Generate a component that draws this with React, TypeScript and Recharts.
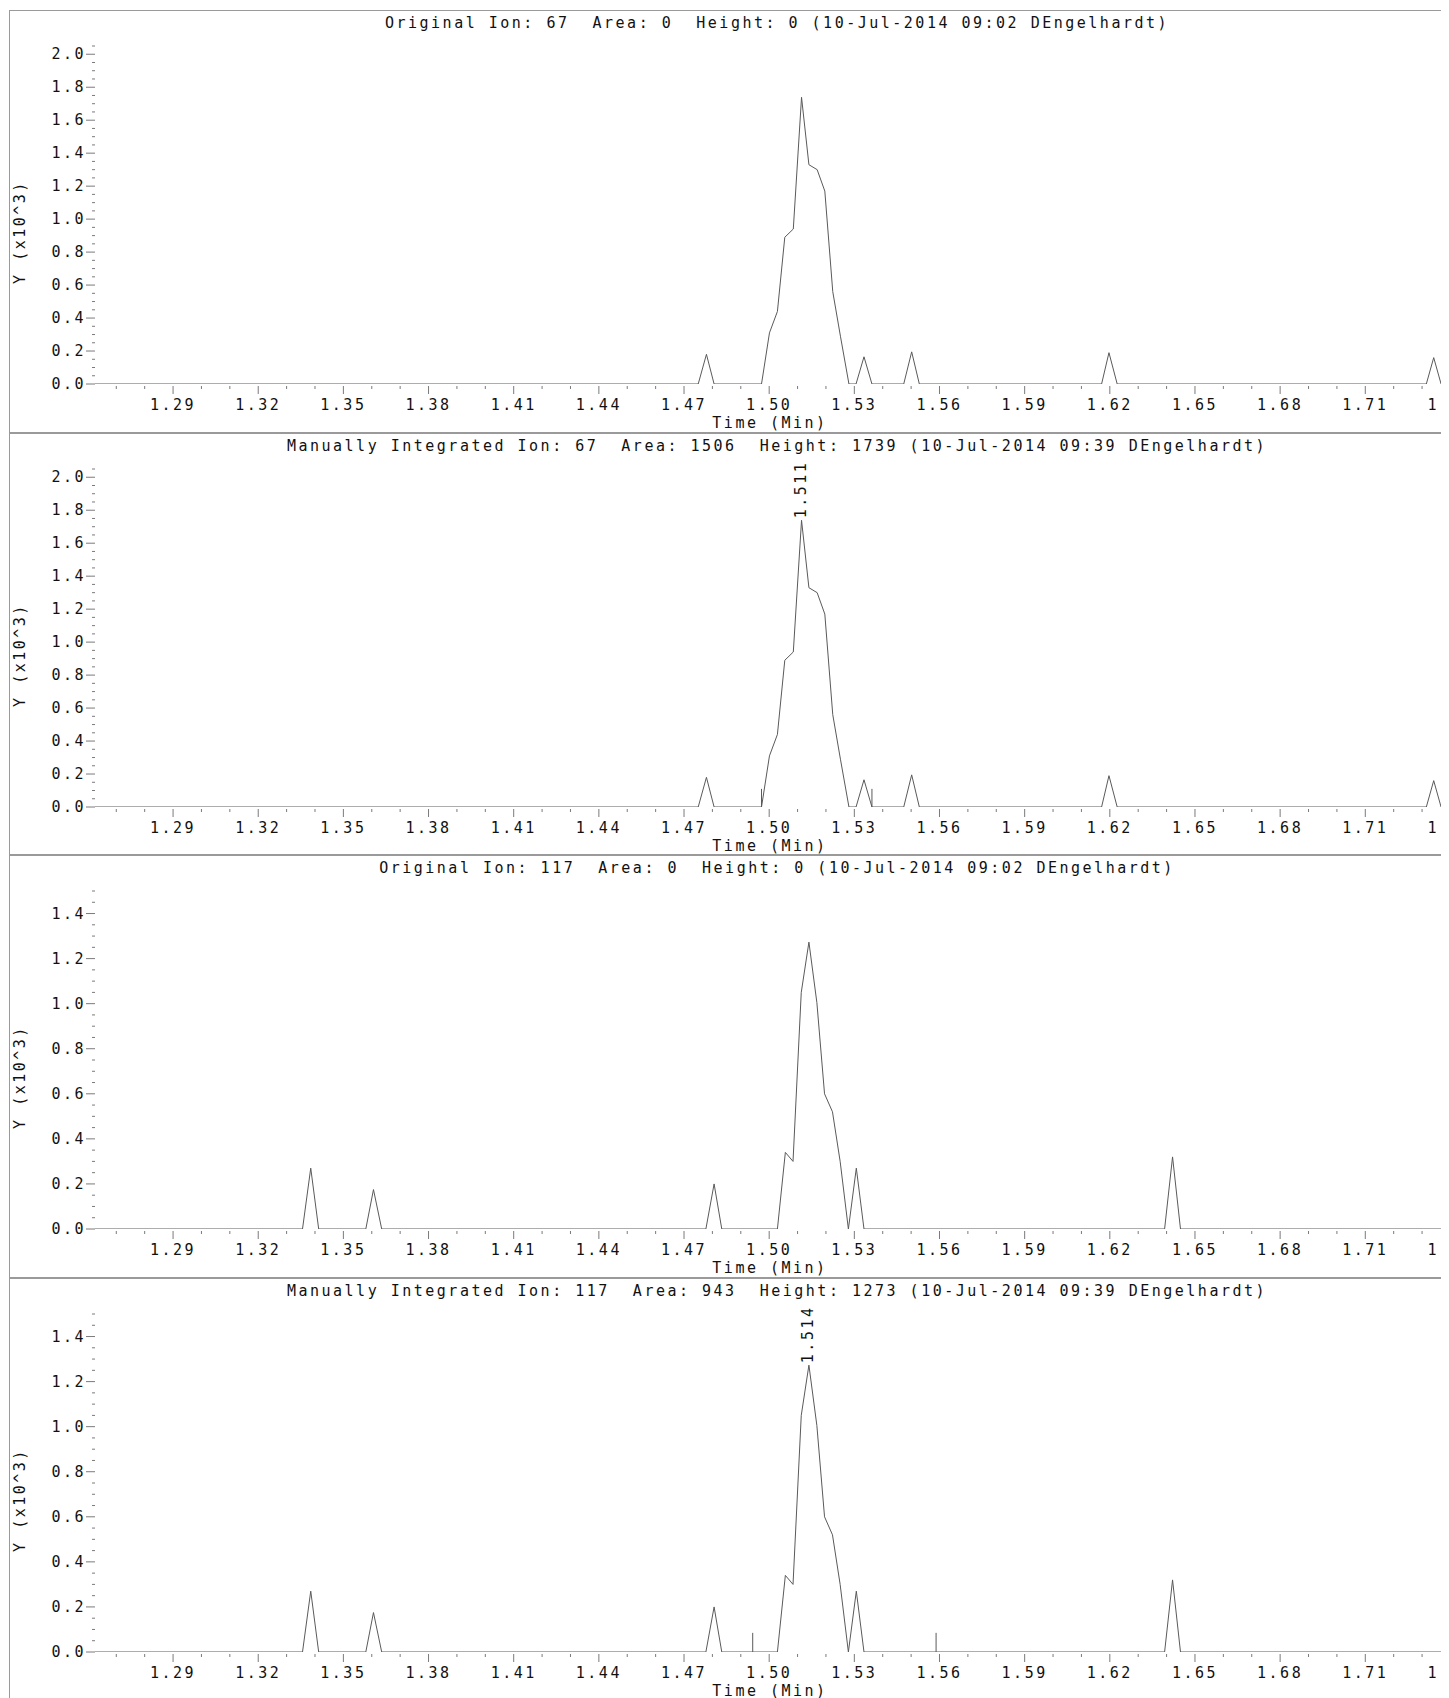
import React from 'react';
import { LineChart, Line, XAxis, YAxis, ReferenceDot, ReferenceLine } from 'recharts';

// Ion 67 trace: retention time (min) and abundance (x10^3)
const ion67Times = [1.2625, 1.475, 1.4779, 1.4806, 1.4973, 1.5001, 1.5029, 1.5055, 1.5085, 1.5114, 1.514, 1.5169, 1.5196, 1.5224, 1.5251, 1.5281, 1.5306, 1.5334, 1.5362, 1.5474, 1.5502, 1.5529, 1.6171, 1.6197, 1.6226, 1.7315, 1.7341, 1.7367, 1.78];
const ion67Values = [0, 0, 0.18, 0, 0, 0.31, 0.44, 0.89, 0.94, 1.739, 1.33, 1.3, 1.17, 0.56, 0.29, 0, 0, 0.165, 0, 0, 0.195, 0, 0, 0.19, 0, 0, 0.16, 0, 0];

// Ion 117 trace
const ion117Times = [1.2625, 1.3356, 1.3385, 1.3413, 1.3579, 1.3606, 1.3635, 1.4777, 1.4806, 1.4833, 1.5029, 1.5057, 1.5084, 1.5113, 1.514, 1.5168, 1.5195, 1.5223, 1.525, 1.5279, 1.5307, 1.5334, 1.6393, 1.6421, 1.6449, 1.78];
const ion117Values = [0, 0, 0.27, 0, 0, 0.175, 0, 0, 0.2, 0, 0, 0.34, 0.3, 1.05, 1.273, 1.005, 0.6, 0.52, 0.3, 0, 0.27, 0, 0, 0.32, 0, 0];

// manual integration start/end markers
const manual67Markers = [1.4973, 1.5362];
const manual67MarkerHeight = 0.11;
const manual117Markers = [1.4942, 1.5588];
const manual117MarkerHeight = 0.085;

const titles = [
  'Original Ion: 67  Area: 0  Height: 0 (10-Jul-2014 09:02 DEngelhardt)',
  'Manually Integrated Ion: 67  Area: 1506  Height: 1739 (10-Jul-2014 09:39 DEngelhardt)',
  'Original Ion: 117  Area: 0  Height: 0 (10-Jul-2014 09:02 DEngelhardt)',
  'Manually Integrated Ion: 117  Area: 943  Height: 1273 (10-Jul-2014 09:39 DEngelhardt)',
];

const xMajorTicks = [1.29, 1.32, 1.35, 1.38, 1.41, 1.44, 1.47, 1.5, 1.53, 1.56, 1.59, 1.62, 1.65, 1.68, 1.71, 1.74, 1.77];
const xAllTicks = Array.from({ length: 52 }, (_, i) => (127 + i) / 100);

const yMajor67 = [0, 0.2, 0.4, 0.6, 0.8, 1.0, 1.2, 1.4, 1.6, 1.8, 2.0];
const yMajor117 = [0, 0.2, 0.4, 0.6, 0.8, 1.0, 1.2, 1.4];
const yAll67 = Array.from({ length: 42 }, (_, i) => (i * 5) / 100);
const yAll117 = Array.from({ length: 31 }, (_, i) => (i * 5) / 100);

const ion67Data = ion67Times.map((t, i) => ({ t, y: ion67Values[i] }));
const ion117Data = ion117Times.map((t, i) => ({ t, y: ion117Values[i] }));

const TRACE = '#5a5a5a';
const TICK = '#7a7a7a';
const TEXT = '#111';
const fontStyle: React.CSSProperties = {
  fontFamily: '"DejaVu Sans Mono", monospace',
  fontSize: 15,
  letterSpacing: '2.5px',
};

const isMajor = (v: number, majors: number[]) => majors.some((m) => Math.abs(m - v) < 1e-6);

function XTick(props: any) {
  const { x, y, payload } = props;
  const major = isMajor(payload.value, xMajorTicks);
  return (
    <g>
      <line x1={x} y1={y + 2} x2={x} y2={y + (major ? 10 : 5)} stroke={TICK} />
      {major && (
        <text x={x} y={y + 21} textAnchor="middle" dominantBaseline="central" fill={TEXT} style={fontStyle}>
          {payload.value.toFixed(2)}
        </text>
      )}
    </g>
  );
}

function YTick(props: any) {
  const { x, y, payload, majors } = props;
  const major = isMajor(payload.value, majors);
  return (
    <g>
      <line x1={x - (major ? 9 : 3)} y1={y} x2={x} y2={y} stroke={TICK} />
      {major && (
        <text x={x - 9} y={y} textAnchor="end" dominantBaseline="central" fill={TEXT} style={fontStyle}>
          {payload.value.toFixed(1)}
        </text>
      )}
    </g>
  );
}

function PeakText(props: any) {
  const { viewBox, peakText } = props;
  const cx = viewBox.x + viewBox.width / 2 - 1;
  const cy = viewBox.y + viewBox.height / 2 - 2;
  return (
    <text x={cx} y={cy} transform={`rotate(-90 ${cx} ${cy})`} textAnchor="start" dominantBaseline="central" fill={TEXT} style={fontStyle}>
      {peakText}
    </text>
  );
}

const panels = [
  { data: ion67Data, yMax: 2.05, yMajor: yMajor67, yAll: yAll67, peak: null, markers: [], markerH: 0 },
  { data: ion67Data, yMax: 2.05, yMajor: yMajor67, yAll: yAll67, peak: { t: 1.5114, y: 1.739, label: '1.511' }, markers: manual67Markers, markerH: manual67MarkerHeight },
  { data: ion117Data, yMax: 1.5, yMajor: yMajor117, yAll: yAll117, peak: null, markers: [], markerH: 0 },
  { data: ion117Data, yMax: 1.5, yMajor: yMajor117, yAll: yAll117, peak: { t: 1.514, y: 1.273, label: '1.514' }, markers: manual117Markers, markerH: manual117MarkerHeight },
];

const panelTops = [2, 425, 847, 1270];

export default function App() {
  return (
    <div style={{ position: 'relative', width: 1441, height: 1690, overflow: 'hidden', background: '#fff' }}>
      {panels.map((p, k) => (
        <div
          key={k}
          style={{
            position: 'absolute',
            left: 1,
            top: panelTops[k],
            width: 1600,
            height: k < 3 ? panelTops[k + 1] - panelTops[k] : 423,
            border: '1px solid #9a9a9a',
            boxSizing: 'border-box',
          }}
        >
          <LineChart width={1564} height={420} data={p.data} margin={{ top: 35, right: 10, bottom: 7, left: 25 }}>
            <XAxis
              dataKey="t"
              type="number"
              domain={[1.2625, 1.78]}
              ticks={xAllTicks}
              interval={0}
              axisLine={false}
              tickLine={false}
              tickSize={0}
              tickMargin={0}
              height={40}
              tick={<XTick />}
              allowDataOverflow
            />
            <YAxis
              type="number"
              domain={[0, p.yMax]}
              ticks={p.yAll}
              interval={0}
              axisLine={false}
              tickLine={false}
              tickSize={0}
              tickMargin={0}
              width={60}
              tick={<YTick majors={p.yMajor} />}
              allowDataOverflow
            />
            <Line type="linear" dataKey="y" stroke={TRACE} strokeWidth={1} dot={false} activeDot={false} isAnimationActive={false} />
            {p.markers.map((m) => (
              <ReferenceLine key={m} segment={[{ x: m, y: 0 }, { x: m, y: p.markerH }]} stroke={TRACE} ifOverflow="visible" />
            ))}
            {p.peak && (
              <ReferenceDot x={p.peak.t} y={p.peak.y} r={1} fill="none" stroke="none" label={<PeakText peakText={p.peak.label} />} />
            )}
          </LineChart>
          <div style={{ ...fontStyle, color: TEXT, position: 'absolute', left: 767, top: 12, transform: 'translate(-50%, -50%)', whiteSpace: 'pre' }}>
            {titles[k]}
          </div>
          <div style={{ ...fontStyle, color: TEXT, position: 'absolute', left: 760, top: 412, transform: 'translate(-50%, -50%)', whiteSpace: 'pre' }}>
            Time (Min)
          </div>
          <div style={{ ...fontStyle, color: TEXT, position: 'absolute', left: 9.5, top: 221, transform: 'translate(-50%, -50%) rotate(-90deg)', whiteSpace: 'pre' }}>
            Y (x10^3)
          </div>
        </div>
      ))}
    </div>
  );
}
